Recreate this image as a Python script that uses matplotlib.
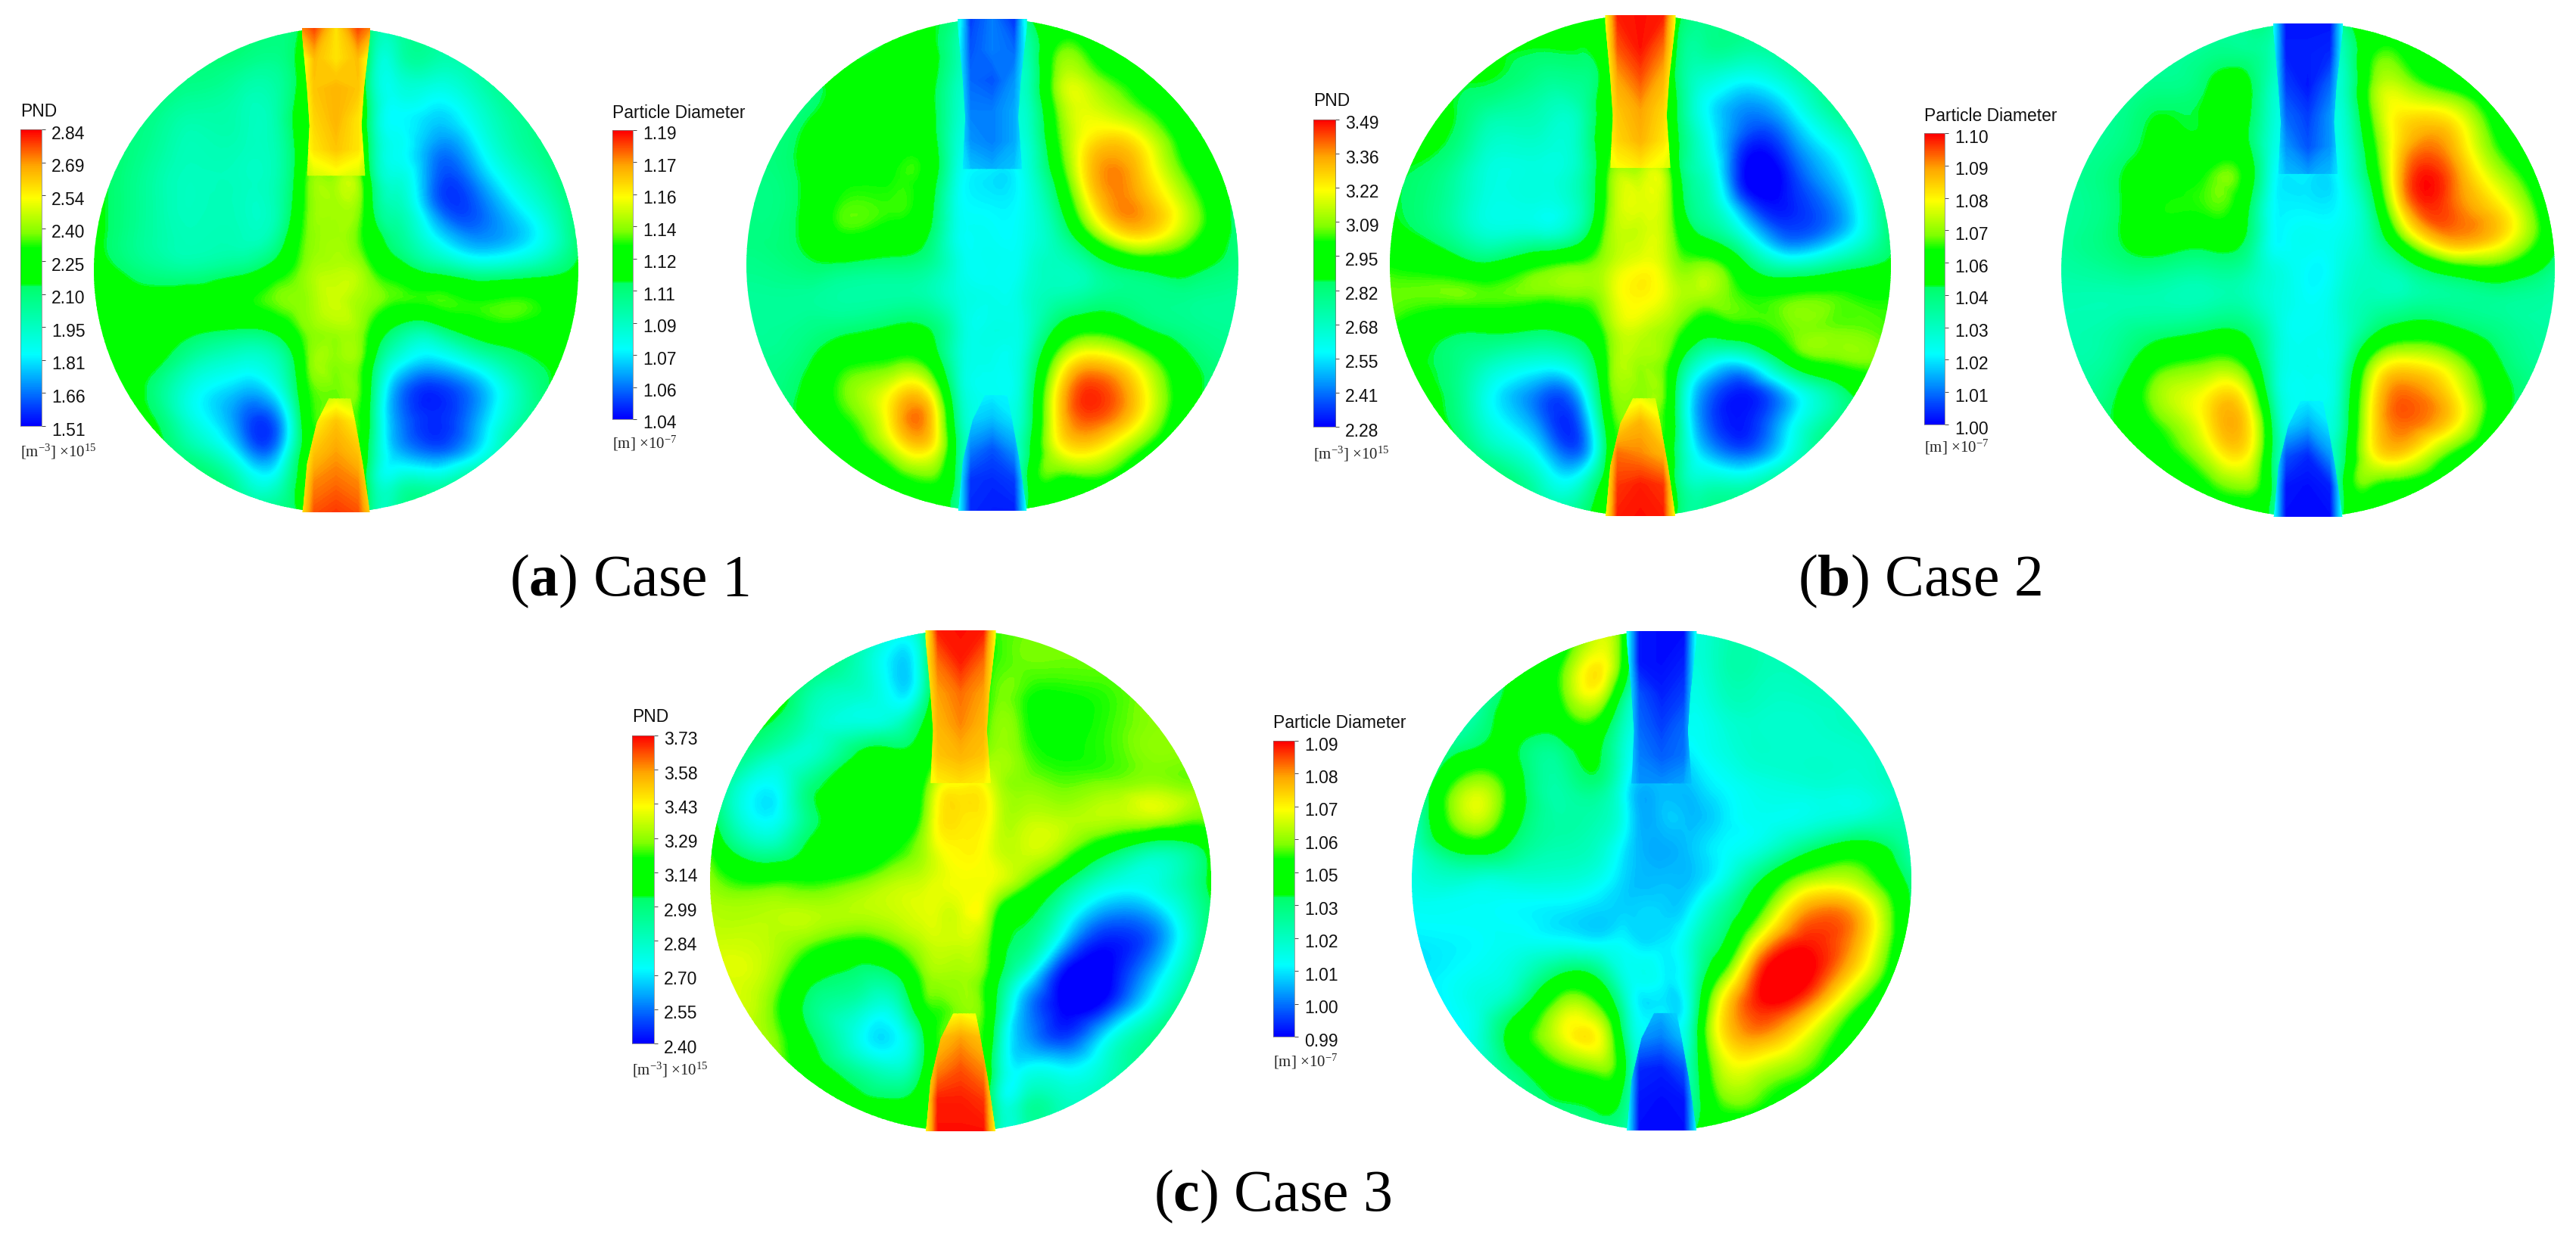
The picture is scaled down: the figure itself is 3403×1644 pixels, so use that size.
import numpy as np
import matplotlib
matplotlib.use("Agg")
import matplotlib.pyplot as plt
import matplotlib.tri as mtri
from matplotlib.colors import LinearSegmentedColormap, Normalize
from matplotlib.patches import Circle, Polygon
from matplotlib.transforms import ScaledTranslation

W, H = 3403, 1644

plt.rcParams['font.family'] = ['Liberation Sans', 'DejaVu Sans']
plt.rcParams['mathtext.fontset'] = 'custom'
plt.rcParams['mathtext.rm'] = 'Liberation Serif'
plt.rcParams['mathtext.it'] = 'Liberation Serif:italic'
plt.rcParams['mathtext.bf'] = 'Liberation Serif:bold'

# sampling stations across each disc, in disc radii
x_stations = [-1, -.75, -.6, -.4, -.25, -.15, -.1, 0, .1, .15, .25, .4, .6, .8, 1]
y_stations = [1, .875, .75, .625, .5, .375, .25, .125, 0, -.125, -.25, -.375, -.5, -.625, -.75, -.875, -1]
# stations of the narrow inlet jets at top and bottom
jet_x = [-.14, -.09, 0, .09, .14]
jet_top_y = [1, .875, .75, .625, .5, .375]
jet_bot_y = [-.5, -.625, -.75, -.875, -1]

# colourbar tick labels, top to bottom
pnd1_ticks = ["2.84", "2.69", "2.54", "2.40", "2.25", "2.10", "1.95", "1.81", "1.66", "1.51"]
dia1_ticks = ["1.19", "1.17", "1.16", "1.14", "1.12", "1.11", "1.09", "1.07", "1.06", "1.04"]
pnd2_ticks = ["3.49", "3.36", "3.22", "3.09", "2.95", "2.82", "2.68", "2.55", "2.41", "2.28"]
dia2_ticks = ["1.10", "1.09", "1.08", "1.07", "1.06", "1.04", "1.03", "1.02", "1.01", "1.00"]
pnd3_ticks = ["3.73", "3.58", "3.43", "3.29", "3.14", "2.99", "2.84", "2.70", "2.55", "2.40"]
dia3_ticks = ["1.09", "1.08", "1.07", "1.06", "1.05", "1.03", "1.02", "1.01", "1.00", "0.99"]

pnd1 = [
    [45, 45, 45, 45, 45, 48, 56, 60, 56, 42, 40, 40, 40, 45, 45],
    [45, 45, 45, 44, 42, 50, 56, 60, 56, 38, 34, 38, 40, 45, 45],
    [45, 45, 42, 38, 38, 50, 56, 60, 56, 36, 28, 28, 36, 45, 45],
    [45, 42, 37, 36, 37, 52, 56, 60, 56, 38, 24, 20, 30, 42, 50],
    [48, 40, 35, 35, 36, 52, 60, 62, 60, 40, 26, 14, 24, 40, 50],
    [50, 38, 34, 34, 36, 54, 66, 68, 64, 44, 30, 11, 16, 34, 50],
    [50, 38, 34, 34, 36, 56, 66, 68, 64, 48, 36, 14, 10, 26, 46],
    [50, 38, 35, 35, 40, 60, 66, 68, 62, 54, 42, 26, 14, 22, 46],
    [52, 42, 40, 44, 54, 64, 68, 70, 68, 62, 54, 44, 36, 40, 50],
    [60, 52, 54, 58, 64, 66, 68, 72, 68, 66, 62, 62, 60, 61, 52],
    [54, 54, 50, 46, 50, 62, 66, 68, 66, 58, 44, 40, 54, 56, 50],
    [50, 50, 38, 30, 34, 54, 66, 66, 64, 50, 28, 20, 32, 46, 50],
    [50, 44, 28, 18, 24, 50, 62, 64, 62, 44, 14, 4, 16, 40, 50],
    [50, 48, 30, 12, 10, 44, 60, 62, 60, 42, 14, 4, 18, 42, 50],
    [50, 50, 40, 20, 14, 46, 58, 60, 58, 40, 18, 10, 24, 48, 50],
    [50, 50, 50, 36, 30, 50, 56, 60, 56, 38, 32, 34, 46, 50, 50],
    [50, 50, 50, 44, 44, 48, 56, 60, 56, 40, 40, 44, 50, 50, 50],
]
pnd1_top = [[90, 95, 80, 95, 90], [75, 85, 80, 85, 75], [75, 84, 86, 84, 75],
            [74, 82, 86, 80, 74], [74, 80, 84, 80, 72], [70, 72, 74, 72, 68]]
pnd1_bot = [[68, 68, 70, 68, 66], [72, 78, 84, 78, 72], [75, 84, 88, 84, 75],
            [78, 90, 92, 90, 78], [80, 94, 96, 94, 82]]
dia1 = [
    [44, 44, 44, 46, 48, 42, 34, 32, 34, 46, 54, 50, 48, 46, 44],
    [44, 44, 46, 50, 50, 38, 32, 30, 32, 38, 60, 58, 50, 46, 44],
    [44, 44, 50, 50, 50, 36, 32, 30, 32, 36, 64, 68, 56, 46, 44],
    [44, 46, 50, 50, 50, 34, 30, 28, 30, 34, 60, 74, 64, 50, 44],
    [44, 50, 54, 54, 52, 32, 28, 28, 28, 32, 56, 80, 78, 54, 44],
    [44, 50, 58, 60, 54, 30, 24, 22, 24, 30, 50, 84, 84, 60, 44],
    [44, 50, 62, 62, 50, 28, 24, 23, 24, 28, 42, 78, 88, 68, 44],
    [44, 50, 60, 56, 46, 28, 25, 25, 25, 28, 36, 62, 82, 66, 44],
    [42, 46, 46, 44, 40, 30, 26, 26, 26, 30, 34, 40, 52, 52, 44],
    [40, 40, 38, 38, 36, 30, 28, 27, 28, 32, 36, 40, 42, 42, 40],
    [40, 42, 44, 48, 46, 34, 28, 28, 28, 32, 46, 56, 48, 42, 40],
    [42, 46, 56, 60, 54, 34, 28, 27, 28, 36, 62, 80, 68, 48, 42],
    [44, 50, 64, 76, 72, 38, 28, 26, 28, 40, 74, 96, 80, 52, 42],
    [44, 50, 60, 82, 84, 44, 30, 28, 30, 42, 76, 94, 78, 50, 42],
    [44, 48, 54, 72, 78, 48, 32, 30, 32, 46, 72, 80, 62, 46, 42],
    [44, 44, 48, 56, 62, 46, 32, 30, 32, 50, 60, 60, 50, 44, 44],
    [44, 44, 46, 48, 50, 44, 32, 30, 32, 50, 50, 48, 44, 44, 44],
]
dia1_top = [[28, 6, 12, 5, 28], [25, 8, 12, 10, 25], [25, 10, 8, 14, 25],
            [25, 12, 12, 16, 24], [24, 14, 12, 16, 24], [24, 19, 17, 19, 24]]
dia1_bot = [[26, 25, 24, 24, 26], [26, 20, 18, 22, 26], [26, 12, 8, 14, 26],
            [26, 5, 4, 6, 26], [26, 4, 3, 3, 26]]
pnd2 = [
    [48, 48, 48, 48, 48, 52, 58, 60, 58, 50, 42, 42, 44, 46, 48],
    [48, 48, 48, 48, 48, 52, 58, 60, 58, 46, 40, 40, 42, 46, 48],
    [48, 48, 48, 42, 42, 50, 58, 60, 58, 44, 32, 26, 34, 46, 48],
    [48, 48, 40, 36, 36, 52, 58, 60, 58, 46, 26, 14, 22, 42, 50],
    [48, 46, 33, 32, 34, 54, 60, 62, 60, 48, 30, 8, 12, 30, 50],
    [48, 40, 29, 29, 34, 55, 68, 70, 68, 50, 34, 3, 5, 22, 46],
    [48, 38, 28, 28, 34, 57, 70, 74, 70, 54, 38, 12, 3, 16, 46],
    [50, 40, 31, 32, 40, 62, 70, 72, 70, 60, 46, 30, 8, 18, 46],
    [60, 54, 50, 60, 64, 68, 72, 76, 72, 66, 66, 52, 34, 42, 50],
    [64, 64, 63, 63, 64, 68, 74, 78, 74, 70, 68, 62, 62, 62, 60],
    [60, 50, 50, 48, 52, 62, 70, 72, 68, 64, 54, 58, 64, 64, 62],
    [48, 44, 36, 30, 36, 56, 68, 68, 64, 52, 32, 26, 54, 64, 62],
    [50, 44, 26, 12, 18, 52, 66, 66, 62, 42, 14, 3, 22, 44, 56],
    [50, 46, 28, 12, 8, 44, 62, 64, 60, 42, 12, 2, 22, 44, 50],
    [50, 50, 38, 22, 10, 40, 60, 60, 58, 42, 20, 10, 28, 50, 50],
    [50, 50, 50, 34, 30, 50, 58, 60, 58, 44, 34, 34, 46, 50, 50],
    [50, 50, 50, 42, 42, 54, 58, 60, 58, 46, 42, 44, 50, 50, 50],
]
pnd2_top = [[76, 98, 99, 98, 76], [76, 94, 99, 92, 76], [74, 88, 94, 86, 74],
            [76, 84, 88, 82, 74], [76, 82, 86, 80, 74], [74, 76, 78, 74, 72]]
pnd2_bot = [[68, 70, 72, 70, 68], [72, 80, 86, 78, 72], [76, 92, 90, 86, 76],
            [76, 96, 98, 96, 76], [76, 98, 99, 98, 76]]
dia2 = [
    [40, 40, 40, 40, 42, 40, 32, 30, 32, 44, 50, 50, 48, 46, 42],
    [40, 40, 40, 42, 42, 36, 30, 30, 30, 36, 58, 58, 48, 46, 42],
    [40, 40, 42, 48, 50, 34, 30, 28, 30, 34, 62, 68, 56, 46, 42],
    [40, 42, 48, 50, 50, 32, 28, 28, 28, 32, 60, 80, 76, 52, 42],
    [40, 44, 50, 52, 50, 30, 26, 26, 26, 30, 54, 86, 84, 58, 42],
    [40, 48, 56, 62, 56, 28, 22, 22, 22, 28, 48, 92, 90, 68, 44],
    [40, 48, 60, 62, 50, 26, 23, 23, 23, 26, 40, 86, 92, 78, 46],
    [40, 48, 54, 52, 46, 26, 24, 26, 26, 28, 36, 66, 88, 78, 50],
    [38, 42, 42, 40, 38, 30, 28, 24, 26, 30, 34, 40, 54, 56, 42],
    [36, 36, 36, 36, 36, 30, 28, 25, 28, 32, 36, 38, 40, 40, 38],
    [36, 40, 44, 48, 46, 34, 28, 26, 28, 32, 44, 54, 50, 42, 38],
    [38, 44, 58, 64, 58, 36, 28, 27, 28, 36, 64, 78, 68, 46, 40],
    [40, 50, 68, 78, 74, 40, 28, 26, 28, 40, 74, 92, 78, 50, 42],
    [42, 50, 62, 80, 82, 48, 30, 28, 30, 42, 76, 92, 78, 48, 42],
    [44, 48, 56, 72, 78, 48, 32, 30, 32, 46, 74, 80, 58, 46, 42],
    [46, 48, 50, 60, 66, 48, 32, 30, 32, 50, 62, 56, 48, 44, 44],
    [48, 48, 48, 50, 50, 46, 32, 30, 32, 50, 50, 46, 44, 44, 44],
]
dia2_top = [[24, 2, 2, 2, 24], [24, 3, 3, 4, 24], [24, 6, 2, 10, 24],
            [24, 10, 6, 14, 24], [24, 14, 8, 14, 24], [24, 18, 16, 18, 24]]
dia2_bot = [[26, 25, 24, 24, 26], [26, 20, 16, 22, 26], [26, 8, 4, 14, 26],
            [26, 2, 1, 3, 26], [26, 1, 1, 1, 26]]
pnd3 = [
    [60, 60, 60, 40, 30, 40, 56, 60, 60, 62, 64, 64, 64, 64, 64],
    [60, 60, 50, 34, 20, 34, 54, 60, 60, 62, 64, 64, 64, 64, 64],
    [60, 56, 38, 32, 22, 36, 54, 60, 60, 64, 62, 60, 62, 66, 66],
    [58, 46, 34, 30, 34, 48, 56, 60, 62, 66, 62, 58, 62, 66, 66],
    [56, 34, 32, 50, 50, 54, 60, 64, 66, 68, 64, 60, 62, 66, 66],
    [50, 24, 44, 50, 52, 60, 72, 78, 76, 70, 66, 64, 66, 68, 68],
    [52, 24, 44, 50, 54, 64, 76, 80, 78, 72, 70, 70, 70, 70, 66],
    [60, 38, 50, 52, 60, 68, 74, 78, 76, 72, 72, 68, 50, 38, 52],
    [66, 60, 60, 64, 70, 72, 74, 76, 76, 74, 66, 50, 30, 30, 50],
    [70, 70, 70, 70, 72, 74, 74, 74, 72, 60, 50, 34, 14, 20, 46],
    [72, 70, 64, 58, 64, 70, 72, 72, 66, 54, 44, 20, 2, 14, 48],
    [72, 68, 52, 44, 48, 64, 68, 68, 62, 50, 30, 2, 0, 22, 50],
    [70, 64, 44, 34, 34, 58, 62, 66, 60, 44, 16, 0, 6, 32, 54],
    [68, 66, 48, 26, 24, 46, 60, 62, 58, 38, 16, 6, 26, 44, 56],
    [66, 66, 54, 38, 32, 48, 60, 60, 56, 36, 24, 24, 34, 44, 54],
    [64, 64, 62, 50, 48, 54, 60, 60, 54, 34, 34, 34, 38, 46, 50],
    [62, 62, 62, 60, 60, 58, 60, 60, 52, 36, 36, 36, 40, 46, 50],
]
pnd3_top = [[76, 98, 99, 98, 76], [78, 92, 98, 92, 76], [76, 88, 92, 88, 76],
            [76, 86, 90, 86, 76], [76, 84, 86, 84, 76], [76, 78, 80, 78, 74]]
pnd3_bot = [[68, 72, 74, 70, 66], [76, 84, 88, 84, 74], [78, 90, 94, 90, 76],
            [78, 98, 98, 96, 76], [76, 99, 99, 99, 76]]
dia3 = [
    [30, 30, 30, 50, 72, 56, 36, 30, 30, 30, 36, 36, 36, 36, 36],
    [30, 30, 45, 60, 78, 56, 36, 30, 30, 30, 36, 36, 36, 36, 36],
    [30, 34, 50, 62, 74, 44, 32, 28, 28, 28, 34, 34, 34, 34, 34],
    [30, 40, 52, 54, 56, 34, 28, 26, 26, 26, 30, 32, 32, 34, 34],
    [30, 52, 50, 42, 48, 30, 24, 22, 22, 24, 28, 32, 32, 32, 34],
    [30, 70, 56, 38, 42, 26, 18, 18, 18, 20, 24, 28, 30, 30, 34],
    [30, 72, 54, 38, 36, 26, 18, 18, 18, 18, 22, 26, 28, 32, 36],
    [30, 52, 44, 36, 32, 22, 18, 16, 18, 20, 24, 30, 46, 54, 36],
    [28, 30, 30, 30, 26, 20, 18, 18, 18, 20, 28, 48, 70, 68, 44],
    [25, 25, 24, 22, 20, 20, 20, 20, 22, 28, 40, 62, 90, 84, 46],
    [22, 24, 26, 26, 24, 24, 22, 22, 28, 36, 48, 82, 98, 84, 44],
    [22, 26, 30, 48, 44, 28, 26, 24, 28, 40, 64, 98, 100, 76, 40],
    [24, 28, 40, 68, 62, 36, 24, 22, 26, 46, 80, 98, 88, 60, 38],
    [26, 28, 52, 74, 76, 44, 28, 26, 30, 50, 80, 88, 72, 50, 36],
    [28, 32, 44, 60, 66, 50, 30, 28, 34, 48, 72, 72, 62, 46, 36],
    [30, 34, 40, 48, 52, 44, 30, 28, 36, 46, 64, 62, 52, 44, 36],
    [32, 34, 38, 40, 40, 40, 30, 28, 38, 50, 52, 50, 44, 40, 36],
]
dia3_top = [[26, 2, 1, 1, 26], [26, 2, 1, 3, 26], [26, 8, 3, 6, 26],
            [24, 10, 6, 10, 24], [22, 12, 9, 11, 22], [20, 14, 14, 16, 20]]
dia3_bot = [[26, 20, 18, 22, 24], [26, 14, 12, 18, 24], [26, 4, 3, 8, 24],
            [26, 2, 1, 2, 24], [26, 1, 1, 1, 24]]

# the contrast stretched rainbow of the colourbars, with its flat green band
cmap = LinearSegmentedColormap.from_list("fluent", [
    (0.00, (0, 0, 1)), (0.06, (0, .24, 1)), (0.15, (0, .63, 1)), (0.24, (0, 1, 1)),
    (0.37, (0, 1, .67)), (0.47, (0, 1, .42)), (0.478, (0, 1, 0)), (0.60, (0, 1, 0)),
    (0.65, (.5, 1, 0)), (0.77, (1, 1, 0)), (0.88, (1, .65, 0)), (1.00, (1, 0, 0))])

# outline of the jets in disc radii
top_outline = [(-.14, 1.01), (.14, 1.01), (.14, .97), (.115, .75), (.105, .6), (.12, .39),
               (-.12, .39), (-.11, .6), (-.12, .75), (-.14, .97)]
bot_outline = [(-.03, -.53), (.06, -.53), (.08, -.63), (.11, -.8), (.135, -.97), (.14, -1.01),
               (-.14, -1.01), (-.135, -.97), (-.12, -.8), (-.08, -.63)]


def add_px_axes(x0, y0, x1, y1):
    return fig.add_axes([x0 / W, 1 - y1 / H, (x1 - x0) / W, (y1 - y0) / H])


def draw_disc(field, jet_top, jet_bot, ticks, cx, cy, r):
    ax = add_px_axes(cx - r, cy - r, cx + r, cy + r)
    low, high = float(ticks[-1]), float(ticks[0])
    scale = lambda t: low + np.array(t, dtype=float) / 100 * (high - low)
    norm = Normalize(low, high)
    levels = np.linspace(low, high, 160)
    gx, gy = np.meshgrid(x_stations, y_stations)
    tri = mtri.Triangulation(gx.ravel(), gy.ravel())
    # library's own cubic refinement so the contours come out round
    fine_tri, fine_z = mtri.UniformTriRefiner(tri).refine_field(scale(field).ravel(), subdiv=3)
    cs = ax.tricontourf(fine_tri, fine_z, levels=levels, cmap=cmap, norm=norm, extend='both')
    cs.set_clip_path(Circle((0, 0), 1, transform=ax.transData))
    for ys, vals, outline in [(jet_top_y, jet_top, top_outline), (jet_bot_y, jet_bot, bot_outline)]:
        jet = ax.contourf(jet_x, ys, scale(vals), levels=levels, cmap=cmap, norm=norm, extend='both')
        jet.set_clip_path(Polygon(outline, transform=ax.transData))
    ax.set_xlim(-1, 1)
    ax.set_ylim(-1, 1)
    ax.axis('off')


def draw_bar(ticks, title, units, x0, y0, x1, y1, title_y, units_y):
    ax = add_px_axes(x0, y0, x1, y1)
    low, high = float(ticks[-1]), float(ticks[0])
    grad = np.linspace(high, low, 400).reshape(-1, 1)
    ax.imshow(grad, aspect='auto', cmap=cmap, vmin=low, vmax=high, extent=[0, 1, low, high])
    ax.set_xticks([])
    ax.yaxis.tick_right()
    ax.set_yticks(np.linspace(high, low, len(ticks)))
    ax.set_yticklabels(ticks, fontsize=16.5, color='#111111')
    ax.tick_params(axis='y', length=3.6, width=0.7, pad=6, color='#444444')
    for lab in ax.get_yticklabels():
        lab.set_transform(lab.get_transform() + ScaledTranslation(0, -3.5 / 100, fig.dpi_scale_trans))
    for s in ax.spines.values():
        s.set_linewidth(0.5)
        s.set_color('#777777')
    fig.text(x0 / W, 1 - title_y / H, title, fontsize=16.5, va='center', ha='left', color='#111111')
    fig.text(x0 / W, 1 - units_y / H, units, fontsize=15, va='center', ha='left',
             family='Liberation Serif', color='#222222')


fig = plt.figure(figsize=(W / 100, H / 100), dpi=100, facecolor='white')

pnd_units = r'[m$^{-3}$] $\times$10$^{15}$'
dia_units = r'[m] $\times$10$^{-7}$'

draw_disc(pnd1, pnd1_top, pnd1_bot, pnd1_ticks, 444, 357, 320)
draw_disc(dia1, dia1_top, dia1_bot, dia1_ticks, 1311, 350, 325)
draw_disc(pnd2, pnd2_top, pnd2_bot, pnd2_ticks, 2167, 351, 331)
draw_disc(dia2, dia2_top, dia2_bot, dia2_ticks, 3049, 357, 326)
draw_disc(pnd3, pnd3_top, pnd3_bot, pnd3_ticks, 1269, 1164, 331)
draw_disc(dia3, dia3_top, dia3_bot, dia3_ticks, 2195, 1164, 330)

draw_bar(pnd1_ticks, "PND", pnd_units, 27, 171, 55, 563, 147, 597)
draw_bar(dia1_ticks, "Particle Diameter", dia_units, 809, 172, 836, 554, 149, 586)
draw_bar(pnd2_ticks, "PND", pnd_units, 1735, 158, 1764, 564, 134, 600)
draw_bar(dia2_ticks, "Particle Diameter", dia_units, 2542, 176, 2569, 561, 153, 591)
draw_bar(pnd3_ticks, "PND", pnd_units, 835, 972, 864, 1379, 947, 1414)
draw_bar(dia3_ticks, "Particle Diameter", dia_units, 1682, 979, 1710, 1370, 955, 1403)

for letter, case, x, y in [('a', 'Case 1', 673, 787), ('b', 'Case 2', 2375, 787), ('c', 'Case 3', 1524, 1600)]:
    fig.text(x / W, 1 - y / H, r'($\mathbf{%s}$) %s' % (letter, case), fontsize=56,
             family='Liberation Serif', ha='left', va='baseline', color='black')

fig.savefig('out.png', dpi=100, facecolor='white')
